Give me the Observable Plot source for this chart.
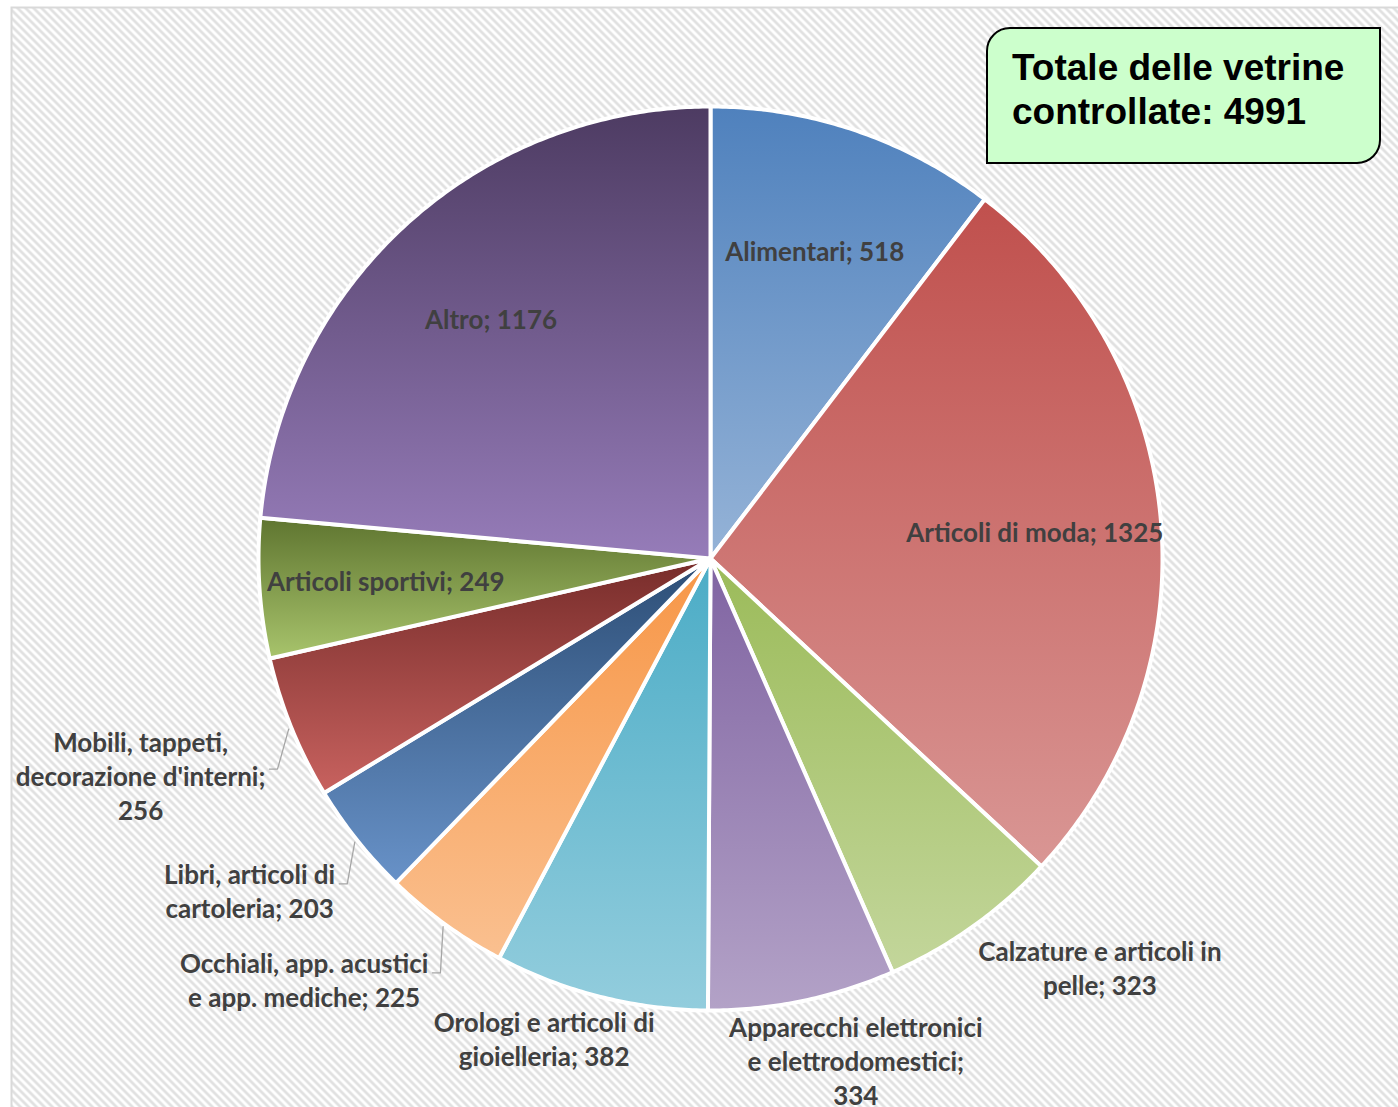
<!DOCTYPE html>
<html><head><meta charset="utf-8">
<script src="https://cdn.jsdelivr.net/npm/d3@7"></script>
<script src="https://cdn.jsdelivr.net/npm/@observablehq/plot@0.6"></script>
<style>
html,body{margin:0;padding:0;background:#fff;width:1398px;height:1107px;overflow:hidden;}
#chart{position:absolute;left:0;top:0;}
#total{position:absolute;left:986px;top:27px;width:395px;height:137px;box-sizing:border-box;border:2px solid #000;border-radius:24px 0 24px 0;background:#ccffcc;font-family:"Liberation Sans",Arial,sans-serif;font-weight:bold;font-size:37px;line-height:44px;padding:17px 0 0 24px;color:#000;}
</style></head>
<body>
<svg width="0" height="0" style="position:absolute;left:0;top:0"><defs id="defs"></defs></svg>
<div id="chart"></div>
<div id="total"></div>
<script>
// ---- data ----
const categories = ["Alimentari", "Articoli di moda", "Calzature e articoli in pelle",
  "Apparecchi elettronici e elettrodomestici", "Orologi e articoli di gioielleria",
  "Occhiali, app. acustici e app. mediche", "Libri, articoli di cartoleria",
  "Mobili, tappeti, decorazione d'interni", "Articoli sportivi", "Altro"];
const values = [518, 1325, 323, 334, 382, 225, 203, 256, 249, 1176];
const labelTexts = [
  "Alimentari; 518",
  "Articoli di moda; 1325",
  "Calzature e articoli in\npelle; 323",
  "Apparecchi elettronici\ne elettrodomestici;\n334",
  "Orologi e articoli di\ngioielleria; 382",
  "Occhiali, app. acustici\ne app. mediche; 225",
  "Libri, articoli di\ncartoleria; 203",
  "Mobili, tappeti,\ndecorazione d'interni;\n256",
  "Articoli sportivi; 249",
  "Altro; 1176"
];
const totalLines = ["Totale delle vetrine", "controllate:"];

// ---- styles ----
const topColors = ["#4f81bd", "#c0504d", "#9bbb59", "#8064a2", "#4bacc6", "#f79646",
  "#2c4d75", "#772c2a", "#5f7530", "#4d3b62"];
const bottomColors = ["#95b3d7", "#d99694", "#c3d69b", "#b3a2c7", "#93cddd", "#fac090",
  "#6892c8", "#c8625f", "#a8c46c", "#967cb9"];
const hatchColor = "#e1e1e1";
const R = 452, CX = 710, CY = 558;
const FS = 26, LH = 34;

// ---- defs: gradients and background hatch ----
const defs = d3.select("#defs");
topColors.forEach((c, i) => {
  const g = defs.append("linearGradient").attr("id", "g" + i)
    .attr("x1", 0).attr("y1", 0).attr("x2", 0).attr("y2", 1);
  g.append("stop").attr("offset", "0%").attr("stop-color", c);
  g.append("stop").attr("offset", "100%").attr("stop-color", bottomColors[i]);
});
const pat = defs.append("pattern").attr("id", "hatch").attr("patternUnits", "userSpaceOnUse")
  .attr("width", 8).attr("height", 8);
pat.append("rect").attr("width", 8).attr("height", 8).attr("fill", "#fff");
for (let r = 0; r < 8; r++) {
  pat.append("rect").attr("x", r).attr("y", r).attr("width", 4).attr("height", 1).attr("fill", hatchColor);
  if (r + 4 > 8) pat.append("rect").attr("x", r - 8).attr("y", r).attr("width", 4).attr("height", 1).attr("fill", hatchColor);
}

// ---- geometry from data ----
const pie = d3.pie().sort(null).value(d => d)(values);
const slicePts = [];
pie.forEach((p, i) => {
  const cat = categories[i], fill = `url(#g${i})`;
  slicePts.push({cat, x: 0, y: 0, fill});
  const n = Math.max(2, Math.ceil((p.endAngle - p.startAngle) / (Math.PI / 360)));
  for (let k = 0; k <= n; k++) {
    const a = p.startAngle + (p.endAngle - p.startAngle) * k / n;
    slicePts.push({cat, x: Math.sin(a), y: Math.cos(a), fill});
  }
});

const ctx = document.createElement("canvas").getContext("2d");
ctx.font = `bold ${FS}px Lato`;
const clamp = s => Math.max(-1, Math.min(1, 2 * s));
const labels = [], leaders = [];
pie.forEach((p, i) => {
  const text = labelTexts[i];
  const lines = text.split("\n");
  const mid = (p.startAngle + p.endAngle) / 2;
  const sx = Math.sin(mid), sy = -Math.cos(mid);
  if (lines.length === 1) {
    labels.push({x: 0.72 * sx, y: -0.72 * sy, text});
    return;
  }
  const w = d3.max(lines, l => ctx.measureText(l).width);
  const h = lines.length * LH - 4;
  const small = (p.endAngle - p.startAngle) < 20 * Math.PI / 180;
  const gap = small ? 28 : 10;
  const ax = (R + gap) * sx, ay = (R + gap) * sy;
  const cx = ax + w / 2 * clamp(sx), cy = ay + h / 2 * clamp(sy);
  labels.push({x: cx / R, y: -cy / R, text});
  if (small) {
    const cat = categories[i];
    const ex = sx < 0 ? cx + w / 2 + 4 : cx - w / 2 - 4;
    const ey = cy - 6;
    const ox = sx < 0 ? ex + 8 : ex - 8;
    leaders.push({cat, x: (R + 3) * sx / R, y: -(R + 3) * sy / R});
    leaders.push({cat, x: ox / R, y: -ey / R});
    leaders.push({cat, x: ex / R, y: -ey / R});
  }
});

const chart = Plot.plot({
  width: 1398, height: 1107,
  marginLeft: 11, marginTop: 7, marginRight: 0, marginBottom: 0,
  x: {domain: [-1, 1], range: [CX - R, CX + R], axis: null},
  y: {domain: [-1, 1], range: [CY + R, CY - R], axis: null},
  color: {type: "identity"},
  style: {background: "transparent", fontFamily: "Lato", overflow: "hidden"},
  marks: [
    Plot.frame({fill: "url(#hatch)", stroke: "#d9d9d9", strokeWidth: 2, insetRight: -6, insetBottom: -6}),
    Plot.line(slicePts, {x: "x", y: "y", z: "cat", fill: "fill", stroke: "white", strokeWidth: 4,
      strokeLinejoin: "round", curve: "linear-closed"}),
    Plot.line(leaders, {x: "x", y: "y", z: "cat", stroke: "#a6a6a6", strokeWidth: 1.3}),
    Plot.text(labels, {x: "x", y: "y", text: "text", textAnchor: "middle", lineAnchor: "middle",
      fontSize: FS, fontWeight: "bold", fontFamily: "Lato", fill: "#404040", lineHeight: LH / FS})
  ]
});
document.getElementById("chart").appendChild(chart);

const total = d3.sum(values);
d3.select("#total").append("div").text(totalLines[0]);
d3.select("#total").append("div").text(`${totalLines[1]} ${total}`);
</script>
</body></html>
